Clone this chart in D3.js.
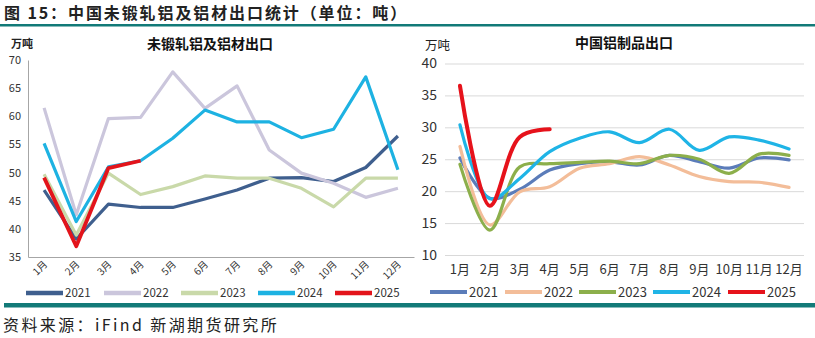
<!DOCTYPE html>
<html>
<head>
<meta charset="utf-8">
<script src="https://cdn.jsdelivr.net/npm/d3@7"></script>
<style>
  body { margin: 0; background: #fff; }
  svg { display: block; }
  text { font-family: "Noto Sans CJK SC", "Liberation Sans", sans-serif; }
</style>
</head>
<body>
<svg id="chart" width="815" height="338"></svg>
<script>
// data (万吨)
var months = ['1月','2月','3月','4月','5月','6月','7月','8月','9月','10月','11月','12月'];
var years = ['2021','2022','2023','2024','2025'];

// left: 未锻轧铝及铝材出口
var left2021 = [46.9, 38.2, 44.4, 43.8, 43.8, 45.3, 46.9, 49.0, 49.1, 48.4, 50.9, 56.5];
var left2022 = [61.5, 42.5, 59.6, 59.8, 67.9, 61.4, 65.4, 54.0, 49.9, 48.1, 45.6, 47.2];
var left2023 = [49.7, 38.9, 49.9, 46.1, 47.5, 49.4, 49.0, 49.0, 47.2, 43.9, 49.0, 49.0];
var left2024 = [55.2, 41.3, 51.0, 52.1, 56.1, 61.1, 59.0, 59.0, 56.2, 57.7, 67.0, 50.5];
var left2025 = [49.1, 36.9, 50.8, 52.1];
var leftTicks = [35, 40, 45, 50, 55, 60, 65, 70];

// right: 中国铝制品出口
var right2021 = [25.2, 18.9, 20.3, 23.3, 24.3, 24.6, 24.1, 25.6, 24.6, 23.6, 25.2, 24.9];
var right2022 = [27.0, 14.7, 19.9, 20.7, 23.6, 24.3, 25.4, 24.1, 22.3, 21.5, 21.4, 20.6];
var right2023 = [24.2, 13.9, 23.8, 24.3, 24.5, 24.7, 24.3, 25.6, 25.0, 22.8, 25.8, 25.6];
var right2024 = [30.4, 18.8, 22.0, 26.2, 28.3, 29.3, 27.6, 29.7, 26.4, 28.5, 28.0, 26.6];
var right2025 = [36.5, 17.7, 28.5, 29.7];
var rightTicks = [10, 15, 20, 25, 30, 35, 40];

var svg = d3.select('#chart');

// header
svg.append('text')
	.attr('x', 4).attr('y', 19)
	.attr('font-size', 16).attr('font-weight', 'bold').attr('fill', '#222')
	.attr('letter-spacing', 1.9)
	.text('图 15：中国未锻轧铝及铝材出口统计（单位：吨）');
svg.append('rect')
	.attr('x', 0).attr('y', 24).attr('width', 815).attr('height', 2.5)
	.attr('fill', '#127a78');

// footer
svg.append('rect')
	.attr('x', 4).attr('y', 303).attr('width', 811).attr('height', 4.5)
	.attr('fill', '#127a78');
svg.append('text')
	.attr('x', 3).attr('y', 331)
	.attr('font-size', 16).attr('fill', '#222')
	.attr('letter-spacing', 2.4)
	.text('资料来源：iFind 新湖期货研究所');

// ---------- left chart ----------
var leftCols = ['#3f5f8e', '#cbc6dc', '#c9d9a9', '#1db2e2', '#e3141b'];
var leftSeries = [left2021, left2022, left2023, left2024, left2025];

var lx = d3.scaleBand().domain(months).range([28, 414]);
var ly = d3.scaleLinear().domain([35, 70]).range([257, 60]);

var lg = svg.append('g');

lg.append('g')
	.attr('transform', 'translate(28,0)')
	.call(d3.axisLeft(ly).tickValues(leftTicks).tickSize(0).tickPadding(7))
	.call(function(g) {
		g.select('.domain').attr('stroke', '#a6a6a6');
		g.selectAll('text').attr('font-family', 'Liberation Sans').attr('font-size', 11).attr('fill', '#333');
	});

lg.append('g')
	.attr('transform', 'translate(0,257)')
	.call(d3.axisBottom(lx).tickSize(0).tickFormat(''))
	.call(function(g) { g.select('.domain').attr('stroke', '#a6a6a6'); });

// rotated month labels
lg.selectAll('.lmonth')
	.data(months)
	.enter().append('text')
	.attr('class', 'lmonth')
	.attr('text-anchor', 'end')
	.attr('font-size', 10).attr('fill', '#333')
	.attr('transform', function(d) {
		return 'translate(' + (lx(d) + lx.bandwidth() / 2 + 4) + ',265) rotate(-45)';
	})
	.text(function(d) { return d; });

lg.append('text')
	.attr('x', 11).attr('y', 48)
	.attr('font-size', 11).attr('font-weight', 'bold').attr('fill', '#222')
	.text('万吨');
lg.append('text')
	.attr('x', 210).attr('y', 49)
	.attr('text-anchor', 'middle')
	.attr('font-size', 14).attr('font-weight', 'bold').attr('fill', '#111')
	.text('未锻轧铝及铝材出口');

var lline = d3.line()
	.x(function(d, i) { return lx(months[i]) + lx.bandwidth() / 2; })
	.y(function(d) { return ly(d); });

leftSeries.forEach(function(s, i) {
	lg.append('path')
		.datum(s)
		.attr('fill', 'none')
		.attr('stroke', leftCols[i])
		.attr('stroke-width', i == 4 ? 3.8 : 3.2)
		.attr('stroke-linejoin', 'round')
		.attr('d', lline);
});

// legend
var lLegX = [26, 104, 181, 258, 335];
years.forEach(function(y, i) {
	lg.append('line')
		.attr('x1', lLegX[i]).attr('x2', lLegX[i] + 37)
		.attr('y1', 293).attr('y2', 293)
		.attr('stroke', leftCols[i]).attr('stroke-width', 4.5);
	lg.append('text')
		.attr('x', lLegX[i] + 39).attr('y', 297)
		.attr('font-family', 'Liberation Sans')
		.attr('font-size', 11.5).attr('fill', '#333')
		.text(y);
});

// ---------- right chart ----------
var rightCols = ['#5b7cb9', '#f3bd99', '#8caf4b', '#1fb4e6', '#e6121b'];
var rightSeries = [right2021, right2022, right2023, right2024, right2025];

var rx = d3.scaleBand().domain(months).range([445, 804]);
var ry = d3.scaleLinear().domain([10, 40]).range([255, 63.5]);

var rg = svg.append('g');

rg.append('g')
	.attr('transform', 'translate(445,0)')
	.call(d3.axisLeft(ry).tickValues(rightTicks).tickSize(-359).tickPadding(8))
	.call(function(g) {
		g.select('.domain').remove();
		g.selectAll('line').attr('stroke', '#d9d9d9');
		g.selectAll('text').attr('font-family', 'Liberation Serif').attr('font-size', 14).attr('fill', '#333');
	});

rg.append('g')
	.attr('transform', 'translate(0,255)')
	.call(d3.axisBottom(rx).tickSize(0).tickPadding(10))
	.call(function(g) {
		g.select('.domain').remove();
		g.selectAll('text').attr('font-size', 13).attr('fill', '#333');
	});

rg.append('text')
	.attr('x', 425).attr('y', 50)
	.attr('font-size', 12.5).attr('fill', '#222')
	.text('万吨');
rg.append('text')
	.attr('x', 624).attr('y', 48)
	.attr('text-anchor', 'middle')
	.attr('font-size', 14).attr('font-weight', 'bold').attr('fill', '#111')
	.text('中国铝制品出口');

var rline = d3.line()
	.x(function(d, i) { return rx(months[i]) + rx.bandwidth() / 2; })
	.y(function(d) { return ry(d); })
	.curve(d3.curveCatmullRom.alpha(0.5));

rightSeries.forEach(function(s, i) {
	rg.append('path')
		.datum(s)
		.attr('fill', 'none')
		.attr('stroke', rightCols[i])
		.attr('stroke-width', i == 4 ? 4 : 3.2)
		.attr('stroke-linecap', 'round')
		.attr('d', rline);
});

var rLegX = [430, 505, 579, 653, 728];
years.forEach(function(y, i) {
	rg.append('line')
		.attr('x1', rLegX[i]).attr('x2', rLegX[i] + 37)
		.attr('y1', 292).attr('y2', 292)
		.attr('stroke', rightCols[i]).attr('stroke-width', 4);
	rg.append('text')
		.attr('x', rLegX[i] + 39).attr('y', 297)
		.attr('font-family', 'Liberation Serif')
		.attr('font-size', 13).attr('fill', '#333')
		.text(y);
});
</script>
</body>
</html>
